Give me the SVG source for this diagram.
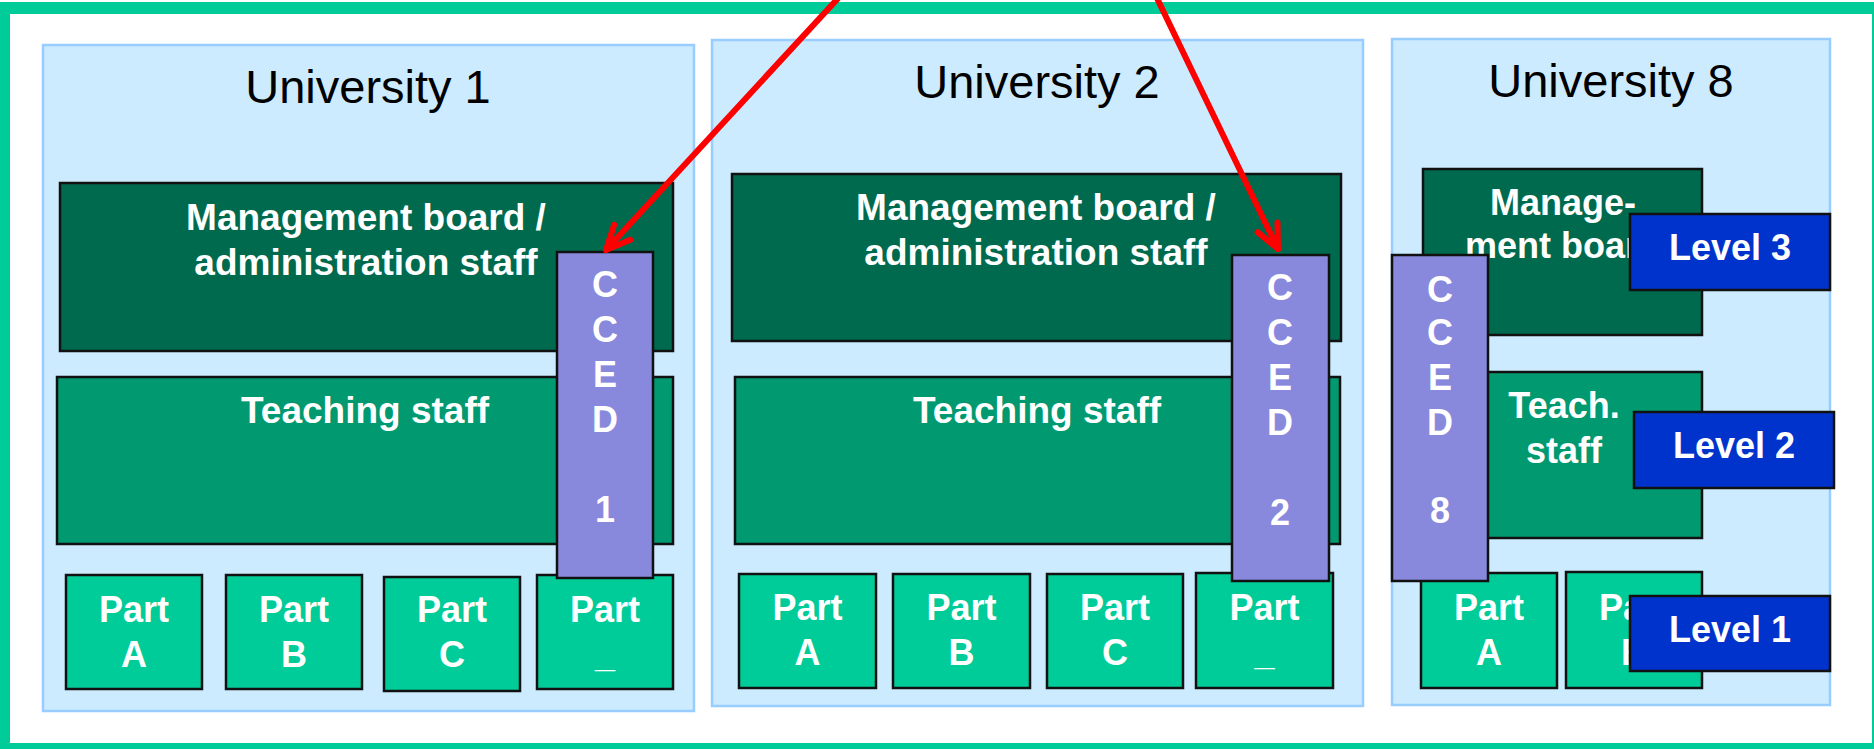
<svg xmlns="http://www.w3.org/2000/svg" width="1874" height="749" viewBox="0 0 1874 749">
<defs>
<style>
.frame{fill:#FFFFFF;stroke:#00CC99;stroke-width:12}
.uni{fill:#CCEBFF;stroke:#99CCFF;stroke-width:2.5}
.mgmt{fill:#006A4E;stroke:#111;stroke-width:2.5}
.teach{fill:#009970;stroke:#111;stroke-width:2.5}
.part{fill:#00CC99;stroke:#111;stroke-width:2.5}
.cced{fill:#8888DD;stroke:#111;stroke-width:2.5}
.lvl{fill:#0033CC;stroke:#111;stroke-width:2.5}
.title{font-family:"Liberation Sans",Arial,sans-serif;font-size:47px;fill:#000;text-anchor:middle}
.w{font-family:"Liberation Sans",Arial,sans-serif;font-weight:bold;font-size:36px;fill:#FFF;text-anchor:middle}
.w37{font-size:37px}
.arrow{stroke:#FF0000;stroke-width:6;fill:none;stroke-linecap:round}
</style>
<marker id="head" markerUnits="userSpaceOnUse" markerWidth="60" markerHeight="60" viewBox="-30 -30 60 60" refX="0" refY="0" orient="auto" overflow="visible">
<path d="M -24 -11 L 0 0 L -24 11" fill="none" stroke="#FF0000" stroke-width="6" stroke-linecap="round" stroke-linejoin="round"/>
</marker>
</defs>
<rect class="frame" x="4" y="8" width="1874" height="741"/>

<g id="university1">
<rect class="uni" x="43" y="45" width="651" height="666"/>
<text class="title" x="368" y="103">University 1</text>
</g>
<g id="university2">
<rect class="uni" x="712" y="40" width="651" height="666"/>
<text class="title" x="1037" y="98">University 2</text>
</g>
<g id="university8">
<rect class="uni" x="1392" y="39" width="438" height="666"/>
<text class="title" x="1611" y="97">University 8</text>
</g>

<g id="mgmt1">
<rect class="mgmt" x="60" y="183" width="613" height="168"/>
<text class="w w37" x="366" y="230">Management board /</text>
<text class="w w37" x="366" y="275">administration staff</text>
</g>
<g id="teach1">
<rect class="teach" x="57" y="377" width="616" height="167"/>
<text class="w w37" x="365" y="423">Teaching staff</text>
</g>
<g id="u1partA"><rect class="part" x="66" y="575" width="136" height="114"/><text class="w" x="134" y="622">Part</text><text class="w" x="134" y="667">A</text></g>
<g id="u1partB"><rect class="part" x="226" y="575" width="136" height="114"/><text class="w" x="294" y="622">Part</text><text class="w" x="294" y="667">B</text></g>
<g id="u1partC"><rect class="part" x="384" y="577" width="136" height="114"/><text class="w" x="452" y="622">Part</text><text class="w" x="452" y="667">C</text></g>
<g id="u1partX"><rect class="part" x="537" y="575" width="136" height="114"/><text class="w" x="605" y="622">Part</text><text class="w" x="605" y="667">_</text></g>
<g id="cced1">
<rect class="cced" x="557" y="252" width="96" height="326"/>
<text class="w" x="605" y="297">C</text><text class="w" x="605" y="342">C</text><text class="w" x="605" y="387">E</text><text class="w" x="605" y="432">D</text><text class="w" x="605" y="522">1</text>
</g>

<g id="mgmt2">
<rect class="mgmt" x="732" y="174" width="609" height="167"/>
<text class="w w37" x="1036" y="220">Management board /</text>
<text class="w w37" x="1036" y="265">administration staff</text>
</g>
<g id="teach2">
<rect class="teach" x="735" y="377" width="605" height="167"/>
<text class="w w37" x="1037" y="423">Teaching staff</text>
</g>
<g id="u2partA"><rect class="part" x="739" y="574" width="137" height="114"/><text class="w" x="807.5" y="620">Part</text><text class="w" x="807.5" y="665">A</text></g>
<g id="u2partB"><rect class="part" x="893" y="574" width="137" height="114"/><text class="w" x="961.5" y="620">Part</text><text class="w" x="961.5" y="665">B</text></g>
<g id="u2partC"><rect class="part" x="1047" y="574" width="136" height="114"/><text class="w" x="1115" y="620">Part</text><text class="w" x="1115" y="665">C</text></g>
<g id="u2partX"><rect class="part" x="1196" y="573" width="137" height="115"/><text class="w" x="1264.5" y="620">Part</text><text class="w" x="1264.5" y="665">_</text></g>
<g id="cced2">
<rect class="cced" x="1232" y="255" width="97" height="326"/>
<text class="w" x="1280" y="300">C</text><text class="w" x="1280" y="345">C</text><text class="w" x="1280" y="390">E</text><text class="w" x="1280" y="435">D</text><text class="w" x="1280" y="525">2</text>
</g>

<g id="mgmt8">
<rect class="mgmt" x="1423" y="169" width="279" height="166"/>
<text class="w" x="1563" y="215">Manage-</text>
<text class="w" x="1563" y="258">ment board</text>
</g>
<g id="teach8">
<rect class="teach" x="1423" y="372" width="279" height="166"/>
<text class="w" x="1564" y="418">Teach.</text>
<text class="w" x="1564" y="463">staff</text>
</g>
<g id="u8partA"><rect class="part" x="1421" y="573" width="136" height="115"/><text class="w" x="1489" y="620">Part</text><text class="w" x="1489" y="665">A</text></g>
<g id="u8partB"><rect class="part" x="1566" y="572" width="136" height="116"/><text class="w" x="1634" y="620">Part</text><text class="w" x="1634" y="665">B</text></g>
<g id="cced8">
<rect class="cced" x="1392" y="255" width="96" height="326"/>
<text class="w" x="1440" y="302">C</text><text class="w" x="1440" y="345">C</text><text class="w" x="1440" y="390">E</text><text class="w" x="1440" y="435">D</text><text class="w" x="1440" y="523">8</text>
</g>
<g id="level3"><rect class="lvl" x="1630" y="214" width="200" height="76"/><text class="w" x="1730" y="260">Level 3</text></g>
<g id="level2"><rect class="lvl" x="1634" y="412" width="200" height="76"/><text class="w" x="1734" y="458">Level 2</text></g>
<g id="level1"><rect class="lvl" x="1630" y="596" width="200" height="75"/><text class="w" x="1730" y="642">Level 1</text></g>

<g id="connectors">
<line class="arrow" x1="842" y1="-6" x2="606" y2="250" marker-end="url(#head)"/>
<line class="arrow" x1="1155" y1="-6" x2="1278" y2="249" marker-end="url(#head)"/>
</g>
</svg>
